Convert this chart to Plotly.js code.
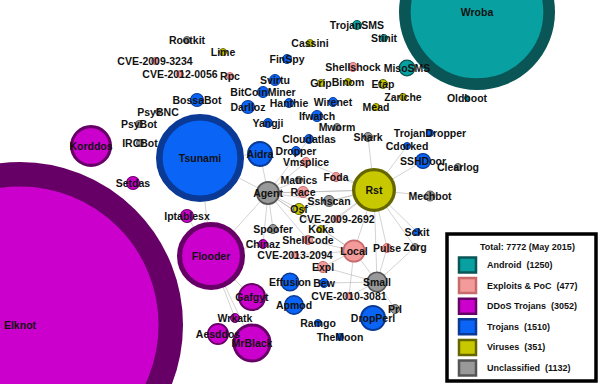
<!DOCTYPE html>
<html>
<head>
<meta charset="utf-8">
<script src="https://cdn.plot.ly/plotly-3.0.1.min.js"></script>
<style>html,body{margin:0;padding:0;background:#fff;}#chart{width:600px;height:384px;}</style>
</head>
<body>
<div id="chart"></div>
<script>
// ---- Node data (layout positions in px of the 600x384 canvas, outer radius, group) ----
const names = ["Elknot","Wroba","Tsunami","Flooder","Rst","Korddos","MrBlack","Gafgyt","Aesddos","Wrkatk",
"Setdas","Iptablesx","Chinaz","Aidra","Agent","Local","Small","DropPerl","Effusion","Apmod",
"Bew","Ramgo","TheMoon","Prl","Expl","CVE-2010-3081","CVE-2013-2094","ShellCode","Spoofer","Koka",
"CVE-2009-2692","Osf","Sshscan","Race","Matrics","Foda","Vmsplice","Dropper","Cloudatlas","Mworm",
"Shark","Ifwatch","Wirenet","Hanthie","Yangji","Darlloz","BitCoinMiner","Svirtu","Rpc","FinSpy",
"Lime","Rootkit","CVE-2009-3234","CVE-2012-0056","BossaBot","PsyBNC","PsyBot","IRCBot","Cassini","TrojanSMS",
"Stinit","Shellshock","MisoSMS","Grip","Binom","Etap","Zariche","Mead","Oldboot","TrojanDropper",
"Cdorked","SSHDoor","Clearlog","Mechbot","Sckit","Pulse","Zorg"];
const xs = [20,477,200,211,374,91,252,252,218,235,
133,187,263,260,268,354,377,373,290,294,
324,318,340,395,323,349,295,308,273,321,
337,299,329,303,299,336,306,296,309,337,
368,317,333,289,268,248,263,275,230,287,
223,187,155,180,197,158,139,140,310,357,
384,353,407,321,348,383,403,376,467,430,
407,423,458,430,417,387,415];
const ys = [325,12,158,256,190,146,343,297,334,318,
183,216,244,154,193,251,282,318,282,305,
283,323,337,309,267,296,255,240,229,229,
219,209,201,192,180,177,162,151,139,127,
137,116,102,103,123,107,92,80,76,59,
52,40,61,74,100,112,124,143,43,25,
38,67,68,83,82,84,97,107,98,133,
146,161,167,196,232,248,247];
const radii = [163,78,44,34,22,21,19.5,14,11,5,
7,7,5,13,12,11.5,10.5,13,9.5,10,
5,4,4,5,6,4,4,5,5,4,
4,6,6,6,4,5,5,5,5,4,
5,6,5,5,5,7,6,6,4,5,
4,4,4,4,7,3,4,4,4,5,
4,5,8.5,4,4,5,4,4,3,4,
4,8,4,5.5,4,5,4];
const groups = ["D","A","T","D","V","D","D","D","D","D",
"D","D","D","T","U","E","U","T","T","T",
"T","T","T","U","E","E","E","E","U","V",
"E","V","U","E","U","E","E","T","T","U",
"U","T","T","T","T","T","T","T","E","T",
"V","U","E","E","T","U","U","U","V","A",
"A","E","A","V","V","V","V","V","A","T",
"T","T","U","U","T","E","U"];

// ---- Edges ----
const edgeFrom = ["Tsunami","Tsunami","Tsunami","Aidra","Agent","Agent","Agent","Agent","Agent","Agent","Agent","Agent","Agent","Agent","Agent",
"Rst","Rst","Rst","Rst","Rst","Rst","Rst","Rst","Rst","Rst","Rst","Rst","Rst","Rst","Rst",
"Local","Local","Local","Local","Local","Local","Small","Small","Small","Small","Small","Small",
"Flooder","Flooder","Flooder","Flooder","Flooder","Agent","Agent","Rst"];
const edgeTo = ["Agent","Flooder","Aidra","Agent","Matrics","Race","Sshscan","Rst","Osf","Spoofer","Chinaz","ShellCode","Local","Vmsplice","Flooder",
"Shark","Cdorked","SSHDoor","Mechbot","Sckit","Pulse","Local","Small","Sshscan","Foda","Race","Osf","Koka","CVE-2009-2692","Zorg",
"Small","Expl","CVE-2013-2094","ShellCode","Koka","CVE-2010-3081","Pulse","Bew","Zorg","CVE-2010-3081","Expl","Prl",
"Gafgyt","Wrkatk","MrBlack","Chinaz","Iptablesx","Cloudatlas","Koka","Vmsplice"];

// ---- Legend ----
const legendTitle = "Total: 7772 (May 2015)";
const legendGroups = ["A","E","D","T","V","U"];
const legendNames = ["Android","Exploits & PoC","DDoS Trojans","Trojans","Viruses","Unclassified"];
const legendCounts = [1250,477,3052,1510,351,1132];

// ---- Styles ----
const fillColor = {A:"#08a0a0",E:"#f39a9a",D:"#cc00cc",T:"#0a64f5",V:"#c8c800",U:"#999999"};
const lineColor = {A:"#0a5656",E:"#c86a6a",D:"#660066",T:"#0a3a96",V:"#666600",U:"#555555"};

const idx = {};
names.forEach((n,i)=>idx[n]=i);
const ex=[], ey=[];
edgeFrom.forEach((f,i)=>{const a=idx[f], b=idx[edgeTo[i]]; ex.push(xs[a],xs[b],null); ey.push(ys[a],ys[b],null);});

// draw big nodes first
const order = names.map((n,i)=>i).sort((a,b)=>radii[b]-radii[a]);
const bw = order.map(i=>Math.max(1, 0.15*radii[i]));
const nodeTrace = {
  type:"scatter", mode:"markers+text",
  x: order.map(i=>xs[i]), y: order.map(i=>ys[i]+1.5),
  text: order.map(i=>names[i]),
  textposition:"middle center",
  textfont:{family:"Liberation Sans, Arial, sans-serif", size:10.5, color:"#111", weight:"bold"},
  marker:{
    size: order.map((i,k)=>2*radii[i]-bw[k]),
    color: order.map(i=>fillColor[groups[i]]),
    line:{width: bw, color: order.map(i=>lineColor[groups[i]])},
    opacity:1
  },
  hoverinfo:"skip", cliponaxis:true
};
// marker y should not be shifted; use separate offset for text only
nodeTrace.y = order.map(i=>ys[i]);
const textTrace = {
  type:"scatter", mode:"text",
  x: order.map(i=>xs[i]), y: order.map(i=>ys[i]+1.5),
  text: order.map(i=>names[i]),
  textposition:"middle center",
  textfont:{family:"Liberation Sans, Arial, sans-serif", size:10.5, color:"#111", weight:"bold"},
  hoverinfo:"skip"
};
nodeTrace.mode = "markers";
delete nodeTrace.text;

const edgeTrace = {type:"scatter", mode:"lines", x:ex, y:ey,
  line:{color:"rgba(175,175,175,0.55)", width:1}, hoverinfo:"skip"};

const shapes = [{type:"rect", xref:"x", yref:"y", x0:447, x1:596, y0:234, y1:381,
  line:{color:"#000", width:3.5}, fillcolor:"#fff", layer:"above"}];
const annotations = [{x:527, y:247, xref:"x", yref:"y", text:"<b>"+legendTitle+"</b>", showarrow:false,
  font:{family:"Liberation Sans, Arial, sans-serif", size:9, color:"#111"}, xanchor:"center", yanchor:"middle"}];
legendGroups.forEach((g,k)=>{
  const cy = 265 + k*20.6;
  shapes.push({type:"rect", xref:"x", yref:"y", x0:459, x1:476, y0:cy-7.5, y1:cy+7.5,
    line:{color:lineColor[g], width:2.5}, fillcolor:fillColor[g], layer:"above"});
  annotations.push({x:485, y:cy, xref:"x", yref:"y", text:"<b>"+legendNames[k]+"&nbsp;&nbsp;("+legendCounts[k]+")</b>",
    showarrow:false, xanchor:"left", yanchor:"middle",
    font:{family:"Liberation Sans, Arial, sans-serif", size:9, color:"#111"}});
});

const layout = {
  width:600, height:384, margin:{l:0,r:0,t:0,b:0},
  paper_bgcolor:"#fff", plot_bgcolor:"#fff", showlegend:false,
  xaxis:{range:[0,600], visible:false, fixedrange:true},
  yaxis:{range:[384,0], visible:false, fixedrange:true},
  shapes:shapes, annotations:annotations
};
Plotly.newPlot("chart",[edgeTrace,nodeTrace,textTrace],layout,{staticPlot:true,displayModeBar:false});
</script>
</body>
</html>
